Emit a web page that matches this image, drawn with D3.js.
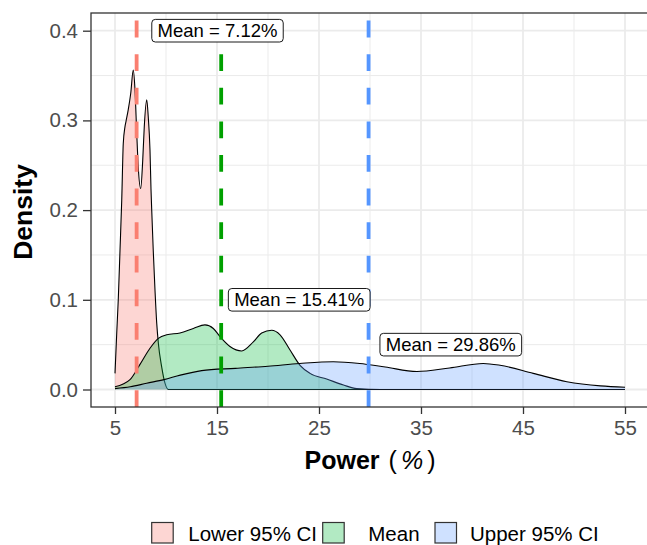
<!DOCTYPE html>
<html>
<head>
<meta charset="utf-8">
<script src="https://cdn.jsdelivr.net/npm/d3@7"></script>
<style>
  html, body { margin: 0; padding: 0; background: #fff; }
  svg { display: block; }
  text { font-family: "Liberation Sans", Arial, Helvetica, sans-serif; }
</style>
</head>
<body>
<svg id="chart" width="647" height="545"></svg>
<script>
// ---- data ----
const groups = ["Lower 95% CI", "Mean", "Upper 95% CI"];
const fillColors = ["#F8766D", "#00BA38", "#619CFF"];
const lineColors = ["#FA7F70", "#00A000", "#5596FF"];

const lowerX = [5.00, 5.17, 5.32, 5.49, 5.66, 5.81, 5.98, 6.08, 6.30, 6.54, 6.79, 6.96, 7.13, 7.28, 7.52, 7.72, 7.87, 8.11, 8.26, 8.43, 8.53, 8.60, 8.75, 8.92, 9.09, 9.25, 9.58, 9.90, 10.23, 12, 20, 30, 40, 55];
const lowerY = [0.018, 0.063, 0.100, 0.155, 0.211, 0.274, 0.293, 0.299, 0.312, 0.330, 0.356, 0.334, 0.286, 0.248, 0.224, 0.256, 0.293, 0.323, 0.304, 0.267, 0.223, 0.200, 0.155, 0.111, 0.074, 0.0515, 0.025, 0.007, 0.000, 0, 0, 0, 0, 0];

const meanX = [5.00, 6.47, 7.45, 8.43, 9.25, 10.07, 11.37, 12.68, 13.82, 14.64, 15.29, 16.27, 17.42, 18.56, 19.38, 20.36, 21.18, 22.16, 23.14, 24.12, 25.75, 27.40, 28.70, 31, 40, 55];
const meanY = [0.003, 0.011, 0.028, 0.046, 0.057, 0.061, 0.063, 0.068, 0.072, 0.068, 0.059, 0.048, 0.043, 0.053, 0.063, 0.066, 0.061, 0.044, 0.027, 0.018, 0.0117, 0.005, 0.001, 0, 0, 0];

const upperX = [5.0, 6.5, 8.1, 9.8, 11.4, 13.5, 16.8, 20.0, 23.1, 26.4, 29.0, 31.5, 34.6, 37.8, 41.1, 42.75, 46.0, 49.3, 52.6, 55.0];
const upperY = [0.001, 0.003, 0.007, 0.011, 0.016, 0.021, 0.0236, 0.026, 0.029, 0.031, 0.029, 0.025, 0.020, 0.024, 0.029, 0.027, 0.018, 0.0087, 0.004, 0.0025];

const means = [7.12, 15.41, 29.86];
const meanLabels = ["Mean = 7.12%", "Mean = 15.41%", "Mean = 29.86%"];
const labelX = [15.05, 23.06, 37.92];
const labelY = [0.40, 0.10, 0.05];

const xTicks = [5, 15, 25, 35, 45, 55];
const xMinor = [10, 20, 30, 40, 50];
const yTicks = [0.0, 0.1, 0.2, 0.3, 0.4];
const yMinor = [0.05, 0.15, 0.25, 0.35];

// ---- layout ----
const svg = d3.select("#chart");
const panel = { left: 91, top: 13, right: 650, bottom: 407 };
const x = d3.scaleLinear().domain([5, 55]).range([115, 625]);
const y = d3.scaleLinear().domain([0, 0.4]).range([389.5, 30.7]);

const series = [
  lowerX.map((v, i) => [v, lowerY[i]]),
  meanX.map((v, i) => [v, meanY[i]]),
  upperX.map((v, i) => [v, upperY[i]])
];

// panel background
svg.append("rect").attr("x", panel.left).attr("y", panel.top)
  .attr("width", panel.right - panel.left).attr("height", panel.bottom - panel.top)
  .attr("fill", "#fff");

const grid = svg.append("g");
xMinor.forEach(v => grid.append("line").attr("x1", x(v)).attr("x2", x(v))
  .attr("y1", panel.top).attr("y2", panel.bottom).attr("stroke", "#EBEBEB").attr("stroke-width", 1));
yMinor.forEach(v => grid.append("line").attr("y1", y(v)).attr("y2", y(v))
  .attr("x1", panel.left).attr("x2", panel.right).attr("stroke", "#EBEBEB").attr("stroke-width", 1));
xTicks.forEach(v => grid.append("line").attr("x1", x(v)).attr("x2", x(v))
  .attr("y1", panel.top).attr("y2", panel.bottom).attr("stroke", "#EBEBEB").attr("stroke-width", 1.8));
yTicks.forEach(v => grid.append("line").attr("y1", y(v)).attr("y2", y(v))
  .attr("x1", panel.left).attr("x2", panel.right).attr("stroke", "#EBEBEB").attr("stroke-width", 1.8));

// densities
const area = d3.area().x(d => x(d[0])).y0(y(0)).y1(d => y(d[1])).curve(d3.curveMonotoneX);
const line = d3.line().x(d => x(d[0])).y(d => y(d[1])).curve(d3.curveMonotoneX);
series.forEach((s, i) => {
  svg.append("path").attr("d", area(s)).attr("fill", fillColors[i]).attr("fill-opacity", 0.3);
  svg.append("path").attr("d", line(s)).attr("fill", "none").attr("stroke", "#000").attr("stroke-width", 1.1);
});

// mean lines (dashed, drawn from bottom up)
means.forEach((m, i) => {
  svg.append("line").attr("x1", x(m)).attr("x2", x(m))
    .attr("y1", panel.bottom).attr("y2", panel.top)
    .attr("stroke", lineColors[i]).attr("stroke-width", 3.8)
    .attr("stroke-dasharray", "16.8 16.8");
});

// labels
means.forEach((m, i) => {
  const g = svg.append("g");
  const t = g.append("text").attr("x", x(labelX[i])).attr("y", y(labelY[i]))
    .attr("text-anchor", "middle").attr("dominant-baseline", "central")
    .attr("font-size", 18.5).attr("fill", "#000").text(meanLabels[i]);
  const w = t.node().getComputedTextLength();
  g.insert("rect", "text").attr("x", x(labelX[i]) - w / 2 - 5.8).attr("y", y(labelY[i]) - 11.3)
    .attr("width", w + 11.6).attr("height", 22.6).attr("rx", 3.5)
    .attr("fill", "#fff").attr("stroke", "#000").attr("stroke-width", 0.9);
});

// panel border
svg.append("rect").attr("x", panel.left).attr("y", panel.top)
  .attr("width", panel.right - panel.left).attr("height", panel.bottom - panel.top)
  .attr("fill", "none").attr("stroke", "#333333").attr("stroke-width", 1.3);

// axes
const xAxis = d3.axisBottom(x).tickValues(xTicks).tickFormat(d3.format("d")).tickSize(7).tickPadding(6);
const gx = svg.append("g").attr("transform", `translate(0,${panel.bottom})`).call(xAxis);
const yAxis = d3.axisLeft(y).tickValues(yTicks).tickFormat(d3.format(".1f")).tickSize(8).tickPadding(5);
const gy = svg.append("g").attr("transform", `translate(${panel.left},0)`).call(yAxis);
[gx, gy].forEach(g => {
  g.select(".domain").remove();
  g.selectAll(".tick line").attr("stroke", "#333333").attr("stroke-width", 1.3);
  g.selectAll(".tick text").attr("fill", "#4D4D4D").attr("font-size", 20.5)
    .style("font-family", '"Liberation Sans", Arial, sans-serif');
});

// axis titles
const xt = svg.append("text").attr("x", 370).attr("y", 469).attr("text-anchor", "middle")
  .attr("font-size", 25).attr("fill", "#000");
xt.append("tspan").attr("font-weight", "bold").text("Power");
xt.append("tspan").attr("dx", 9).text("(");
xt.append("tspan").attr("dx", 4).attr("font-style", "italic").text("%");
xt.append("tspan").attr("dx", 4).text(")");

svg.append("text").attr("transform", "translate(32,212) rotate(-90)")
  .attr("text-anchor", "middle").attr("font-size", 26.5).attr("font-weight", "bold")
  .attr("fill", "#000").text("Density");

// legend
const keyX = [151.7, 322.7, 435];
const textX = [188.3, 368.3, 470];
groups.forEach((gname, i) => {
  svg.append("rect").attr("x", keyX[i]).attr("y", 522.5).attr("width", 21.5).attr("height", 20.5)
    .attr("fill", fillColors[i]).attr("fill-opacity", 0.3)
    .attr("stroke", "#333").attr("stroke-width", 1.2);
  svg.append("text").attr("x", textX[i]).attr("y", 533)
    .attr("dominant-baseline", "central").attr("font-size", 20.5).attr("fill", "#000").text(gname);
});
</script>
</body>
</html>
